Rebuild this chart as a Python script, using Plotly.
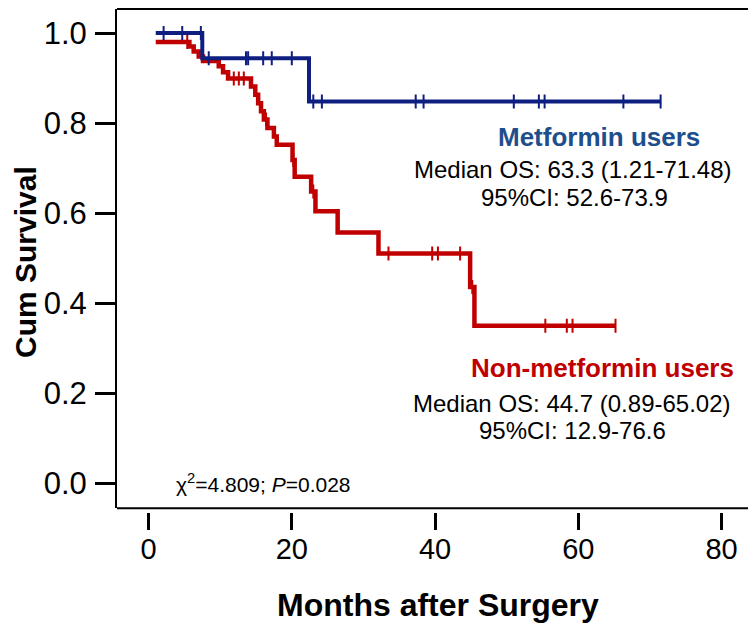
import plotly.graph_objects as go

# ---- data ----
blue_times = [1.0, 7.5, 22.4, 71.5]
blue_surv = [1.0, 0.944, 0.848, 0.848]
blue_censor = [2.1, 4.7, 7.3, 8.4, 13.6, 13.9, 16.0, 17.2, 20.0, 23.0, 24.2,
               37.3, 38.4, 51.0, 54.5, 55.3, 66.3, 71.5]

red_times = [1.0, 5.7, 6.3, 7.0, 7.6, 9.8, 10.4, 11.1, 14.3, 14.9, 15.3, 15.7,
             16.1, 16.6, 17.5, 17.9, 20.1, 20.4, 22.7, 23.3, 26.4, 32.1, 44.9,
             45.5, 65.2]
red_surv = [0.98, 0.970, 0.959, 0.948, 0.938, 0.926, 0.913, 0.899, 0.881, 0.863,
            0.844, 0.826, 0.808, 0.789, 0.770, 0.752, 0.718, 0.681, 0.648, 0.604,
            0.557, 0.510, 0.436, 0.350, 0.350]
red_censor = [5.4, 11.9, 12.6, 13.3, 16.4, 20.2, 23.0, 33.5, 39.6, 40.4, 43.5,
              45.2, 55.4, 58.4, 59.2, 65.2]

x_ticks = [0, 20, 40, 60, 80]
y_ticks = [0.0, 0.2, 0.4, 0.6, 0.8, 1.0]

BLUE = "#0f1f80"
RED = "#c00000"
FONT = "Liberation Sans, Arial, sans-serif"


def step_value(times, surv, t):
    v = surv[0]
    for ti, si in zip(times, surv):
        if ti <= t:
            v = si
    return v


fig = go.Figure()

for times, surv, cens, col, lw in [(red_times, red_surv, red_censor, RED, 4.5),
                                   (blue_times, blue_surv, blue_censor, BLUE, 4)]:
    fig.add_trace(go.Scatter(x=times, y=surv, mode="lines",
                             line=dict(color=col, width=lw, shape="hv"),
                             hoverinfo="skip", showlegend=False))
    fig.add_trace(go.Scatter(x=cens, y=[step_value(times, surv, c) for c in cens],
                             mode="markers",
                             marker=dict(symbol="line-ns", size=10,
                                         line=dict(color=col, width=2)),
                             hoverinfo="skip", showlegend=False))

ann = []
def txt(x, y, s, size, color="black", bold=False):
    ann.append(dict(x=x, y=y, xref="x", yref="y", text=(f"<b>{s}</b>" if bold else s),
                    showarrow=False, font=dict(family=FONT, size=size, color=color),
                    xanchor="center", yanchor="middle"))

txt(62.9, 0.769, "Metformin users", 26, "#1f4e8c", True)
txt(59.3, 0.696, "Median OS: 63.3 (1.21-71.48)", 24)
txt(59.5, 0.634, "95%CI: 52.6-73.9", 24)
txt(63.4, 0.256, "Non-metformin users", 26, RED, True)
txt(59.1, 0.178, "Median OS: 44.7 (0.89-65.02)", 24)
txt(59.2, 0.118, "95%CI: 12.9-76.6", 24)
txt(16.1, 0.0, "χ<sup>2</sup>=4.809; <i>P</i>=0.028", 21)

# axis titles
ann.append(dict(x=-0.1458, y=0.497, xref="paper", yref="paper", text="<b>Cum Survival</b>",
                textangle=-90, showarrow=False, font=dict(family=FONT, size=30, color="black"),
                xanchor="center", yanchor="middle"))
ann.append(dict(x=0.508, y=-0.185, xref="paper", yref="paper", text="<b>Months after Surgery</b>",
                showarrow=False, font=dict(family=FONT, size=32, color="black"),
                xanchor="center", yanchor="middle"))

fig.update_layout(
    width=748, height=625,
    margin=dict(l=117, r=0, t=9, b=113),
    paper_bgcolor="white", plot_bgcolor="white",
    annotations=ann,
    shapes=[
        dict(type="line", xref="paper", yref="y domain", x0=0, x1=1.02, y0=1, y1=1,
             line=dict(color="black", width=2)),
        dict(type="line", xref="paper", yref="y domain", x0=0, x1=1.02, y0=0, y1=0,
             line=dict(color="black", width=2)),
    ],
    xaxis=dict(range=[-4.41, 83.7], tickvals=x_ticks, ticktext=[str(v) for v in x_ticks],
               anchor="free", position=0, showline=False, showgrid=False, zeroline=False,
               ticks="outside", ticklen=17, tickwidth=2.5, tickcolor="black",
               tickfont=dict(family=FONT, size=29, color="black"), ticklabelstandoff=-6),
    yaxis=dict(range=[-0.0556, 1.0533], domain=[0.0074, 1], tickvals=y_ticks,
               ticktext=[f"{v:.1f}" for v in y_ticks],
               showline=True, linecolor="black", linewidth=2, showgrid=False, zeroline=False,
               ticks="outside", ticklen=20, tickwidth=2.5, tickcolor="black",
               tickfont=dict(family=FONT, size=31, color="black"), ticklabelstandoff=2),
)

fig.write_html("out.html")
